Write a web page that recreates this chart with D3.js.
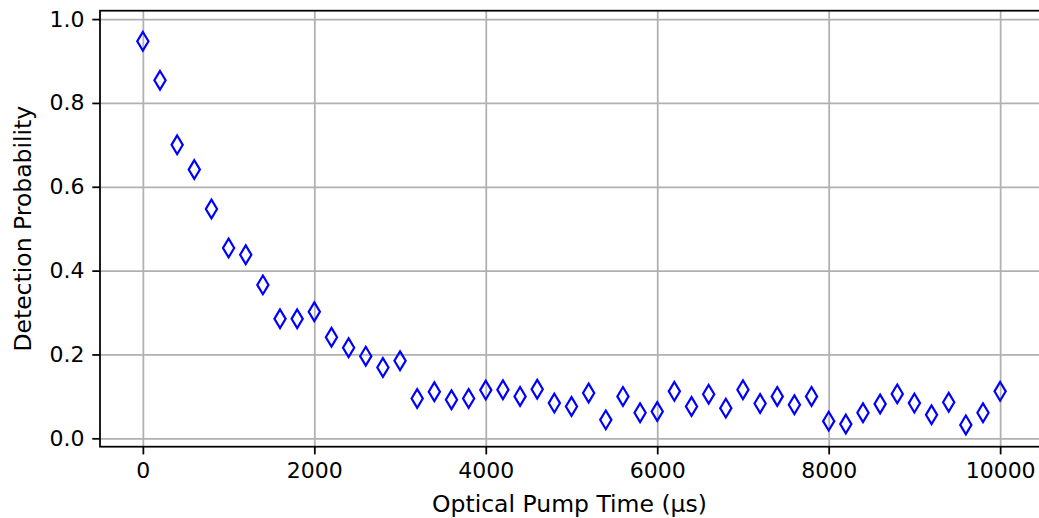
<!DOCTYPE html>
<html>
<head>
<meta charset="utf-8">
<script src="https://cdn.jsdelivr.net/npm/d3@7"></script>
<style>
  html, body { margin: 0; padding: 0; background: #fff; }
  svg { display: block; font-family: "DejaVu Sans", sans-serif; }
</style>
</head>
<body>
<svg id="chart" width="1039" height="518"></svg>
<script>
// Optical pump time (µs) and the measured detection probability at each time
const pumpTimes = [
  0, 200, 400, 600, 800, 1000, 1200, 1400, 1600, 1800,
  2000, 2200, 2400, 2600, 2800, 3000, 3200, 3400, 3600, 3800,
  4000, 4200, 4400, 4600, 4800, 5000, 5200, 5400, 5600, 5800,
  6000, 6200, 6400, 6600, 6800, 7000, 7200, 7400, 7600, 7800,
  8000, 8200, 8400, 8600, 8800, 9000, 9200, 9400, 9600, 9800,
  10000
];
const detectionProb = [
  0.947, 0.854, 0.700, 0.641, 0.547, 0.454, 0.438, 0.366, 0.285, 0.285,
  0.302, 0.241, 0.216, 0.196, 0.169, 0.185, 0.095, 0.111, 0.092, 0.095,
  0.115, 0.116, 0.100, 0.117, 0.084, 0.076, 0.108, 0.044, 0.100, 0.061,
  0.064, 0.112, 0.076, 0.105, 0.072, 0.116, 0.083, 0.100, 0.080, 0.100,
  0.041, 0.034, 0.061, 0.082, 0.106, 0.084, 0.056, 0.086, 0.032, 0.061,
  0.112
];
const xTicks = [0, 2000, 4000, 6000, 8000, 10000];
const yTicks = [0.0, 0.2, 0.4, 0.6, 0.8, 1.0];
const xLabel = "Optical Pump Time (µs)";
const yLabel = "Detection Probability";

const svg = d3.select("#chart");
const plot = { left: 100, right: 1043, top: 10.7, bottom: 446.7 };
const pt = 2.2; // pixels per point

const x = d3.scaleLinear().domain([-500, 10500]).range([plot.left, plot.right]);
const y = d3.scaleLinear().domain([-0.02, 1.02]).range([plot.bottom, plot.top]);

// grid
const gridX = svg.append("g")
  .attr("transform", `translate(0,${plot.bottom})`)
  .call(d3.axisBottom(x).tickValues(xTicks).tickSize(-(plot.bottom - plot.top)).tickFormat(""));
const gridY = svg.append("g")
  .attr("transform", `translate(${plot.left},0)`)
  .call(d3.axisLeft(y).tickValues(yTicks).tickSize(-(plot.right - plot.left)).tickFormat(""));
[gridX, gridY].forEach(g => {
  g.select(".domain").remove();
  g.selectAll(".tick line").attr("stroke", "#b0b0b0").attr("stroke-width", 0.8 * pt);
});

// thin diamond marker
const mh = 4.25 * pt, mw = mh * 0.6;
const thinDiamond = {
  draw(ctx) {
    ctx.moveTo(0, -mh); ctx.lineTo(mw, 0); ctx.lineTo(0, mh); ctx.lineTo(-mw, 0); ctx.closePath();
  }
};
const sym = d3.symbol().type(thinDiamond);

svg.append("g")
  .selectAll("path")
  .data(pumpTimes.map((t, i) => ({ t, p: detectionProb[i] })))
  .join("path")
  .attr("d", sym)
  .attr("transform", d => `translate(${x(d.t)},${y(d.p)})`)
  .attr("fill", "none")
  .attr("stroke", "#0000ff")
  .attr("stroke-width", 1.0 * pt)
  .attr("stroke-linejoin", "miter");

// axes
const tickFontPx = 22;
const labelFontPx = 23.5;
const xAxis = svg.append("g")
  .attr("transform", `translate(0,${plot.bottom})`)
  .call(d3.axisBottom(x).tickValues(xTicks).tickSize(3.5 * pt).tickPadding(3.5 * pt).tickFormat(d3.format("d")));
const yAxis = svg.append("g")
  .attr("transform", `translate(${plot.left},0)`)
  .call(d3.axisLeft(y).tickValues(yTicks).tickSize(3.5 * pt).tickPadding(3.5 * pt).tickFormat(d3.format(".1f")));
[xAxis, yAxis].forEach(g => {
  g.select(".domain").remove();
  g.selectAll(".tick line").attr("stroke", "#000").attr("stroke-width", 0.8 * pt);
  g.selectAll(".tick text").attr("fill", "#000").style("font-size", tickFontPx + "px")
    .style("font-family", "'DejaVu Sans', sans-serif");
});

// spines
const spines = svg.append("g").attr("stroke", "#000").attr("stroke-width", 0.8 * pt).attr("fill", "none");
spines.append("rect")
  .attr("x", plot.left).attr("y", plot.top)
  .attr("width", plot.right - plot.left).attr("height", plot.bottom - plot.top);

// axis labels
svg.append("text")
  .attr("x", (plot.left + plot.right) / 2 - 2)
  .attr("y", 512)
  .attr("text-anchor", "middle")
  .style("font-size", labelFontPx + "px")
  .attr("fill", "#000")
  .text(xLabel);
svg.append("text")
  .attr("transform", `translate(30.5,${(plot.top + plot.bottom) / 2}) rotate(-90)`)
  .attr("text-anchor", "middle")
  .style("font-size", labelFontPx + "px")
  .attr("fill", "#000")
  .text(yLabel);
</script>
</body>
</html>
